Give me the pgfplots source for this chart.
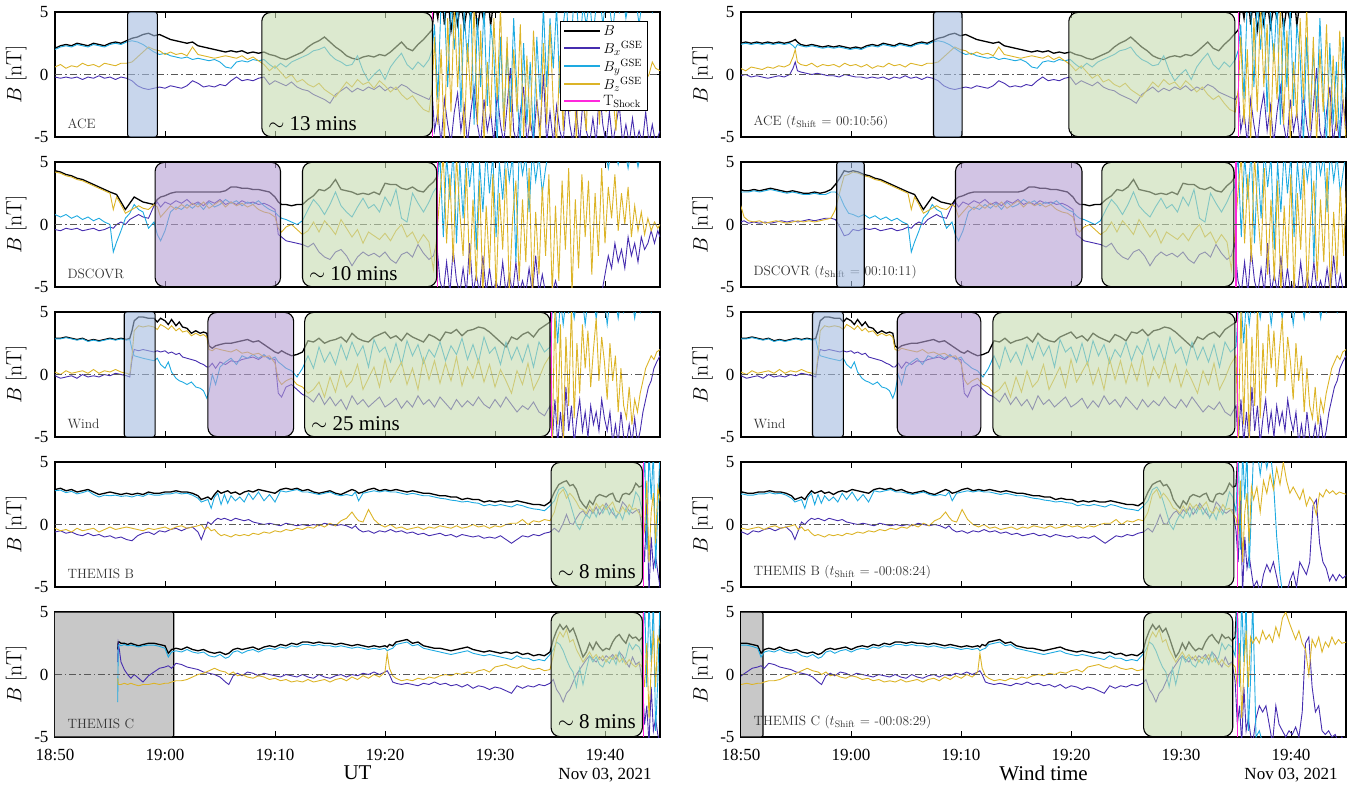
\documentclass[border=0pt]{standalone}
\usepackage{fontspec}
\usepackage{pgfplots}
\usepackage{pgfplotstable}
\pgfplotsset{compat=1.18}
\newfontfamily\tms{Liberation Serif}

\definecolor{bxcol}{RGB}{70,45,175}
\definecolor{bycol}{RGB}{30,170,225}
\definecolor{bzcol}{RGB}{220,180,40}
\definecolor{shockcol}{RGB}{255,40,220}
\definecolor{gfill}{RGB}{197,218,175}
\definecolor{bfill}{RGB}{163,187,223}
\definecolor{pfill}{RGB}{180,157,210}
\definecolor{kfill}{RGB}{200,200,200}

\pgfplotsset{
  bc/.style={black, line width=1.3pt},
  bxc/.style={bxcol, line width=0.9pt},
  byc/.style={bycol, line width=0.9pt},
  bzc/.style={bzcol, line width=0.9pt},
  shk/.style={shockcol, line width=1.2pt},
  panel/.style={
    width=605pt, height=125pt, scale only axis,
    xmin=0, xmax=55, ymin=-5, ymax=5,
    xtick={0,10,20,30,40,50}, xticklabels={,,,,,},
    ytick={-5,0,5}, yticklabels={-5,0,5},
    tick align=inside, major tick length=6pt,
    tick style={black, line width=0.8pt},
    axis line style={line width=1.2pt},
    ticklabel style={font=\tms\fontsize{17}{17}\selectfont},
    yticklabel style={xshift=-3pt},
    ylabel={$B\;[\mathrm{nT}]$},
    ylabel style={font=\fontsize{22}{22}\selectfont, at={(axis description cs:-0.041,0.5)}, anchor=south},
    clip=true},
  bottom/.style={xticklabels={18:50,19:00,19:10,19:20,19:30,19:40}, xticklabel style={yshift=-9pt}},
}

\newcommand{\fourlines}[2]{%
  \addplot[bc] table[x expr=\thisrow{t}#2, y=B] {#1};
  \addplot[bxc] table[x expr=\thisrow{t}#2, y=Bx] {#1};
  \addplot[byc] table[x expr=\thisrow{t}#2, y=By] {#1};
  \addplot[bzc] table[x expr=\thisrow{t}#2, y=Bz] {#1};
}
\newcommand{\zeroline}{\draw[dash pattern=on 7pt off 3pt on 1.5pt off 3pt, black!65, line width=1pt] (axis cs:0,0) -- (axis cs:55,0);}
\newcommand{\gbox}[2]{\draw[line width=1.1pt, rounded corners=9pt, fill=gfill, fill opacity=0.6] (axis cs:#1,-4.97) rectangle (axis cs:#2,4.97);}
\newcommand{\pbox}[2]{\draw[line width=1.1pt, rounded corners=9pt, fill=pfill, fill opacity=0.6] (axis cs:#1,-4.97) rectangle (axis cs:#2,4.97);}
\newcommand{\bbox}[2]{\draw[line width=1.1pt, rounded corners=3pt, fill=bfill, fill opacity=0.6] (axis cs:#1,-5.05) rectangle (axis cs:#2,5.05);}
\newcommand{\kbox}[2]{\draw[line width=1.1pt, rounded corners=2pt, fill=kfill] (axis cs:#1,-5) rectangle (axis cs:#2,5);}
\newcommand{\plabel}[1]{\node[anchor=south west, font=\fontsize{13.5}{14}\selectfont, black!80] at (axis description cs:0,0) [xshift=9pt, yshift=5pt] {#1};}
\newcommand{\mins}[2]{\node[anchor=south west, font=\tms\fontsize{21}{21}\selectfont] at (axis cs:#1,-5) [xshift=3pt, yshift=3pt] {$\sim$ #2 mins};}

% minutes after 18:50 UT, B and GSE components in nT
\pgfplotstableread{
t B Bx By Bz
-11 2.5 -0.1 2.4 0.5
-10.5 2.6 0.0 2.5 0.3
-10 2.5 -0.2 2.4 0.6
-9.5 2.6 -0.1 2.5 0.5
-9 2.5 -0.2 2.4 0.4
-8.5 2.6 -0.3 2.5 0.6
-8 2.5 -0.2 2.4 0.5
-7.5 2.6 -0.1 2.5 0.7
-7 2.5 -0.2 2.4 0.6
-6.5 2.6 0.0 2.5 0.8
-6.2 2.7 0.5 2.3 1.4
-6.0 2.8 1.0 2.1 2.0
-5.8 2.6 0.3 2.4 1.0
-5.5 2.4 0.2 2.3 0.8
-5 2.3 0.1 2.2 0.7
-4.5 2.4 0.0 2.3 0.9
-4 2.3 0.1 2.2 0.6
-3.5 2.2 0.0 2.1 0.8
-3 2.3 -0.1 2.2 0.7
-2.5 2.2 -0.1 2.1 0.8
-2 2.3 -0.2 2.2 0.6
-1.5 2.2 0.0 2.1 0.9
-1 2.1 -0.1 2.0 0.7
-0.5 2.2 -0.2 2.1 0.8
0 2.1 -0.2 2.0 0.6
0.5 2.3 -0.3 2.2 0.8
1 2.4 -0.2 2.3 0.5
1.5 2.3 -0.3 2.2 0.7
2 2.5 -0.2 2.4 0.6
2.5 2.4 -0.4 2.3 0.9
3 2.3 -0.2 2.2 0.7
3.5 2.5 -0.3 2.4 0.8
4 2.4 -0.1 2.3 0.6
4.5 2.3 -0.3 2.2 0.9
5 2.5 -0.2 2.4 0.8
5.5 2.6 -0.4 2.5 0.7
6 2.5 -0.2 2.4 0.9
6.5 2.7 -0.3 2.6 0.9
7 2.9 -0.5 2.7 1.0
7.5 3.0 -0.9 2.6 1.4
8 3.2 -1.1 2.4 1.8
8.5 3.3 -1.2 2.1 2.2
9 3.1 -1.1 1.8 2.0
9.5 3.2 -1.0 1.6 1.9
10 3.0 -1.1 1.7 1.6
10.5 2.8 -0.9 1.5 1.8
11 2.7 -1.0 1.4 1.6
11.5 2.6 -1.1 1.3 1.7
12 2.5 -0.9 1.4 1.5
12.5 2.6 -0.5 1.2 2.2
13 2.3 -0.7 1.3 1.6
13.5 2.2 -1.0 1.2 1.5
14 2.1 -0.9 1.1 1.4
14.5 2.0 -1.0 1.2 1.3
15 1.9 -0.8 1.0 1.4
15.5 1.8 -0.9 0.6 1.5
16 1.9 -0.5 0.5 1.4
16.5 1.8 -0.2 1.0 1.3
17 1.9 -0.5 1.1 1.5
17.5 1.7 -0.4 1.0 1.2
18 1.8 -0.5 1.2 1.4
18.5 1.7 -0.3 1.1 1.1
19 1.8 -0.2 1.2 0.8
19.5 1.6 -0.8 0.8 0.3
20 1.5 -0.5 0.5 0.7
20.5 1.3 -0.7 0.9 0.2
21 1.2 -0.9 0.6 -0.3
21.5 1.4 -0.6 1.0 0.0
22 1.6 -1.0 1.2 -0.6
22.5 1.8 -1.2 1.4 -0.4
23 2.2 -1.3 1.6 -0.8
23.5 2.5 -1.6 1.9 -1.0
24 2.7 -1.8 2.0 -0.7
24.5 3.0 -2.0 2.2 -1.2
25 2.6 -2.3 1.6 -1.5
25.5 2.2 -1.6 1.2 -1.8
26 1.9 -1.3 1.0 -1.2
26.5 1.5 -1.0 0.7 -0.6
27 1.3 -1.4 0.8 -1.0
27.5 1.2 -1.1 1.5 -0.4
28 1.4 -1.3 0.3 -0.8
28.5 1.5 -1.0 -0.5 -0.6
29 1.4 -1.2 0.0 -1.1
29.5 1.6 -0.9 0.4 -0.5
30 1.5 -1.3 -0.4 -0.9
30.5 1.8 -1.0 0.6 -1.4
31 2.2 -1.2 1.2 -1.0
31.5 2.6 -0.8 1.7 -1.6
32 2.1 -1.0 0.8 -2.0
32.5 1.9 -1.4 0.4 -1.7
33 2.4 -1.6 1.0 -2.3
33.5 2.8 -1.8 0.6 -2.8
34 3.3 -2.0 1.2 -3.0
34.3 3.6 -1.5 2.0 -1.0
34.5 6.0 -4.5 4.0 3.0
34.8 4.5 -3.0 -2.0 -4.0
35.1 7.0 -5.5 6.0 2.0
35.4 4.0 -2.0 5.5 -5.5
35.7 6.5 -4.0 -1.0 4.5
36.0 3.5 -5.5 6.0 -3.0
36.3 5.5 -3.0 2.0 5.5
36.6 4.0 -1.5 6.0 -1.0
36.9 6.0 -4.5 -3.0 4.0
37.2 3.8 -2.5 5.0 -5.5
37.5 5.5 -5.5 1.0 2.5
37.8 4.5 -3.0 6.0 -2.0
38.1 6.5 -1.0 -4.0 5.5
38.4 3.6 -4.0 4.5 -4.0
38.7 5.5 -5.5 -1.0 3.5
39.0 4.2 -2.0 5.5 -5.5
39.3 7.0 -4.5 -2.5 1.0
39.6 3.9 -3.0 4.0 -3.5
39.9 6.0 -5.5 1.5 4.5
40.2 7.5 -1.5 -5.5 -2.0
40.5 6.0 -4.0 3.0 5.5
40.8 8.0 -5.5 -4.0 -4.5
41.1 6.5 -2.5 2.0 3.0
41.4 7.0 0.5 -3.0 -5.5
41.7 6.0 -4.5 4.5 2.0
42.0 8.0 -5.5 -1.5 -3.0
42.3 6.5 -3.0 -5.5 4.0
42.6 7.0 -1.0 2.5 -5.0
42.9 6.0 -5.5 -4.0 1.5
43.2 7.5 -3.5 1.0 -4.5
43.5 6.0 -5.5 -5.5 3.5
43.8 7.0 -2.0 3.0 -2.0
44.1 6.5 -4.5 -2.0 -5.5
44.4 8.0 0.0 5.5 2.5
44.7 6.0 -5.5 -1.0 -4.0
45.0 7.0 -3.0 4.5 4.0
45.3 6.5 -5.5 0.5 -2.5
45.6 7.5 -2.5 5.5 -5.5
45.9 6.0 -4.5 -1.5 1.5
46.2 7.0 -5.5 4.0 -4.5
46.5 6.5 -1.5 6.0 3.0
46.8 7.5 -4.0 0.0 -3.0
47.1 6.0 -5.5 5.0 2.0
47.4 7.0 -3.0 6.0 -5.5
47.7 6.5 -5.5 2.0 4.0
48.0 7.5 -2.0 5.5 -1.5
48.3 6.0 -4.5 4.0 -4.5
48.6 7.0 -5.5 6.0 3.5
48.9 6.5 -3.5 3.0 -2.0
49.2 7.5 -5.5 5.5 1.0
49.5 6.0 -1.0 6.5 -4.0
49.8 7.0 -4.0 4.0 2.5
50.1 6.5 -5.5 6.0 -3.0
50.4 7.5 -3.0 5.5 4.0
50.7 6.0 -5.5 3.5 -1.5
51.0 7.0 -4.0 6.0 -4.5
51.3 6.5 -2.5 5.0 2.0
51.6 7.5 -5.5 6.5 -2.5
51.9 6.0 -4.0 4.5 3.0
52.2 7.0 -5.5 6.0 -1.0
52.5 6.5 -3.5 5.5 1.5
52.8 7.5 -5.5 6.0 -2.0
53.1 6.0 -4.5 4.0 0.5
53.4 7.0 -5.5 6.0 1.5
53.7 6.5 -3.0 5.5 -0.5
54.0 7.0 -5.5 6.0 0.0
54.3 6.5 -4.0 5.0 1.0
54.6 7.0 -5.5 6.0 0.5
55.0 6.5 -4.5 5.5 0.3
}\ace

\pgfplotstableread{
t B Bx By Bz
-10.2 2.8 0.2 2.6 1.5
-9.9 2.7 0.3 2.6 0.6
-9.5 2.7 0.1 2.6 0.3
-9.0 2.8 0.2 2.7 0.2
-8.5 2.7 0.1 2.6 0.3
-8.0 2.8 0.2 2.7 0.1
-7.5 2.9 0.1 2.8 0.2
-7.0 2.8 0.2 2.7 0.3
-6.5 2.7 0.3 2.6 0.2
-6.0 2.6 0.2 2.5 0.1
-5.5 2.7 0.3 2.6 0.2
-5.0 2.6 0.2 2.5 0.3
-4.5 2.5 0.3 2.4 0.2
-4.0 2.5 0.4 2.4 0.3
-3.5 2.6 0.3 2.5 0.2
-3.0 2.5 0.4 2.4 0.3
-2.5 2.6 0.5 2.4 0.4
-2.0 2.8 0.5 2.6 0.5
-1.6 3.2 0.4 2.6 1.2
-1.2 3.7 -0.2 2.3 2.6
-0.8 4.3 -0.9 1.5 3.9
-0.4 4.2 -0.8 0.9 4.0
0 4.3 -0.4 0.8 4.2
0.5 4.2 -0.5 0.6 4.1
1.0 4.0 -0.3 0.8 3.9
1.5 3.9 -0.4 0.5 3.8
2.0 3.7 -0.3 0.7 3.6
2.5 3.6 -0.5 0.4 3.5
3.0 3.4 -0.4 0.6 3.3
3.5 3.2 -0.3 0.3 3.1
4.0 3.0 -0.5 0.5 2.9
4.5 2.8 -0.4 0.2 2.7
5.0 2.6 -0.2 0.0 2.5
5.3 2.5 -0.3 -2.2 1.2
5.6 2.4 0.0 -1.4 2.2
6.0 1.8 0.2 -0.5 1.6
6.4 1.2 0.0 0.5 0.9
6.8 1.7 0.4 0.9 1.1
7.2 2.2 0.6 1.6 1.3
7.6 2.0 0.8 1.2 1.5
8.0 1.8 0.6 1.0 1.3
8.5 1.7 0.5 -0.3 1.2
9.0 1.6 1.5 0.2 1.6
9.3 2.0 1.8 -0.8 1.4
9.6 2.2 1.4 -1.3 0.6
10.0 2.3 1.8 -0.5 1.0
10.5 2.5 1.6 1.0 1.5
11.0 2.6 1.9 1.4 1.2
11.5 2.6 1.7 1.2 1.6
12.0 2.6 2.0 1.6 1.3
12.5 2.6 1.6 1.3 1.7
13.0 2.6 1.8 1.7 1.4
13.5 2.6 1.5 1.2 1.8
14.0 2.6 1.9 1.8 1.3
14.5 2.6 1.7 1.4 1.6
15.0 2.6 2.0 1.6 1.9
15.5 2.7 1.6 2.0 1.4
16.0 3.0 1.8 1.7 1.8
16.5 3.0 1.6 1.9 1.5
17.0 2.9 1.9 1.5 1.7
17.5 2.9 1.7 1.8 1.4
18.0 2.8 1.8 1.6 1.6
18.5 2.8 1.6 1.9 1.2
19.0 2.7 1.7 1.5 1.0
19.5 2.6 1.5 1.2 0.9
20.0 2.2 1.2 1.0 0.6
20.3 1.8 -0.8 0.7 -0.3
20.6 1.6 -1.0 0.5 -0.6
21.0 1.6 -1.3 0.4 -0.2
21.5 1.5 -1.4 0.2 0.0
22.0 1.6 -1.5 0.0 -0.4
22.5 1.6 -1.6 0.3 -0.8
23.0 2.0 -1.8 1.2 -0.5
23.5 2.3 -1.5 2.0 0.2
24.0 2.8 -2.2 1.5 -0.6
24.5 2.7 -2.6 0.8 0.3
25.0 3.0 -2.8 1.6 -0.2
25.5 3.6 -2.2 2.6 -0.8
26.0 2.8 -2.0 1.5 0.4
26.5 2.7 -2.5 1.0 -0.3
27.0 2.6 -3.3 0.6 -1.0
27.5 2.4 -2.6 1.4 -0.4
28.0 2.5 -2.2 2.1 -1.5
28.5 2.4 -2.5 1.3 -0.6
29.0 2.6 -2.3 1.6 -0.9
29.5 2.4 -2.6 1.0 -1.2
30.0 3.3 -2.2 2.2 -0.7
30.5 3.2 -2.8 1.5 -1.3
31.0 3.2 -3.1 2.8 -0.5
31.5 2.9 -2.4 0.5 0.0
32.0 2.8 -2.2 0.2 -1.0
32.5 3.0 -2.6 2.5 -0.6
33.0 2.7 -1.6 1.7 -1.5
33.5 2.6 -2.3 1.0 -0.8
34.0 3.1 -2.8 1.8 -1.4
34.4 3.4 -2.5 2.6 -3.6
34.7 3.8 -1.5 3.0 -1.0
35.0 6.5 -4.5 5.5 2.5
35.3 7.0 -5.5 -1.0 5.5
35.6 6.0 -3.0 5.5 -1.5
35.9 7.5 -5.5 2.0 4.0
36.2 6.5 -2.0 6.0 -3.0
36.5 7.0 -4.5 -1.5 5.5
36.8 6.0 -5.5 5.0 1.0
37.1 7.5 -3.5 0.5 -2.5
37.4 6.5 -5.5 6.0 4.5
37.7 7.0 -1.5 3.0 -4.0
38.0 6.0 -5.5 5.5 2.0
38.3 7.5 -4.0 -2.0 -4.5
38.6 6.5 -5.5 5.0 3.5
38.9 7.0 -2.5 1.0 -5.5
39.2 6.0 -5.5 6.0 1.5
39.5 7.5 -3.5 2.5 -3.5
39.8 6.5 -5.5 5.5 4.0
40.1 7.0 -4.5 -1.0 -5.5
40.4 6.0 -5.5 5.0 2.5
40.7 7.5 -3.0 2.0 -2.0
41.0 6.5 -5.5 6.0 4.5
41.3 7.0 -4.0 3.5 -5.5
41.6 6.0 -5.5 5.5 0.5
41.9 7.5 -3.0 -3.0 3.5
42.2 6.5 -5.5 6.0 -4.5
42.5 7.0 -4.5 4.0 2.0
42.8 6.0 -5.5 5.5 -3.0
43.1 7.5 -3.5 1.0 4.5
43.4 6.5 -5.5 6.0 -5.5
43.7 7.0 -2.5 3.5 1.0
44.0 6.0 -5.5 5.5 -4.0
44.3 7.5 -4.0 2.5 3.0
44.6 6.5 -5.5 4.5 -2.5
44.9 7.0 -5.5 6.0 4.0
45.2 6.0 -5.5 6.0 -5.5
45.5 7.5 -4.5 6.0 1.5
45.8 6.5 -5.5 6.0 -4.5
46.1 7.0 -5.5 6.0 3.5
46.4 6.0 -5.5 6.0 -2.0
46.7 7.5 -5.5 5.5 4.5
47.0 6.5 -5.5 6.0 -5.5
47.3 7.0 -5.5 6.0 2.0
47.6 6.0 -5.5 6.0 -3.5
47.9 7.5 -5.5 6.0 4.0
48.2 6.5 -5.5 6.0 -1.0
48.5 7.0 -5.5 5.5 3.5
48.8 6.0 -5.5 6.0 -4.0
49.1 7.5 -5.5 6.0 2.5
49.4 6.5 -5.5 6.0 -2.5
49.7 7.0 -5.5 6.0 4.5
50.0 6.0 -4.0 6.0 -1.5
50.3 7.5 -2.5 4.5 3.0
50.6 6.5 -3.5 6.0 0.5
50.9 7.0 -1.5 6.0 4.0
51.2 6.0 -3.0 4.8 -0.5
51.5 7.5 -2.0 6.0 2.5
51.8 6.5 -3.5 6.0 0.0
52.1 7.0 -1.0 4.5 3.0
52.4 6.0 -2.5 6.0 -1.0
52.7 7.5 -1.5 6.0 1.5
53.0 6.5 -3.0 4.6 -0.5
53.3 7.0 -1.0 6.0 1.0
53.6 6.0 -2.0 6.0 -0.8
53.9 7.5 -1.5 6.0 0.5
54.2 6.5 -0.5 6.0 -0.5
54.5 7.0 -1.5 6.0 0.2
54.8 6.0 -0.5 6.0 -0.3
55.0 6.5 -1.0 6.0 0.0
}\dscovr

\pgfplotstableread{
t B Bx By Bz
0.0 2.9 -0.1 2.85 0.2
0.5 2.9 -0.3 2.85 0.0
1.0 3.0 -0.2 2.95 0.3
1.5 2.9 -0.1 2.85 0.1
2.0 2.8 -0.3 2.75 0.2
2.5 2.9 0.0 2.85 0.3
3.0 2.7 -0.2 2.65 0.1
3.5 2.8 -0.1 2.75 0.4
4.0 2.7 -0.2 2.65 0.1
4.5 2.8 0.0 2.75 0.3
5.0 2.9 -0.1 2.85 0.2
5.5 2.8 0.1 2.75 0.4
6.0 2.9 0.0 2.85 0.2
6.5 2.8 -0.1 2.75 0.1
6.8 2.9 -0.2 2.8 0.0
7.0 3.5 1.2 2.0 1.5
7.2 4.3 2.0 1.5 3.5
7.6 4.6 1.9 1.4 3.9
8.0 4.6 2.0 1.3 3.8
8.5 4.5 1.9 1.2 3.9
9.0 4.5 1.8 1.1 3.8
9.3 4.2 1.9 1.3 3.6
9.6 4.5 1.8 0.8 4.0
10.0 4.3 1.9 0.5 3.8
10.3 4.0 1.7 1.0 3.6
10.6 4.4 1.8 0.2 3.9
11.0 3.9 1.6 -0.3 3.5
11.3 4.2 1.7 -0.5 3.7
11.6 3.8 1.4 -0.6 3.4
12.0 3.7 1.3 -0.8 3.5
12.4 3.3 1.2 -0.6 3.1
12.8 3.5 1.1 -1.0 3.3
13.2 3.3 0.9 -1.1 3.1
13.5 3.4 0.8 -1.3 3.2
13.8 3.3 0.6 -1.9 3.0
14.0 2.3 0.6 -1.4 2.0
14.3 2.1 0.9 0.0 1.9
14.6 2.3 0.5 -0.8 2.1
15.0 2.4 1.0 0.6 2.0
15.5 2.5 0.8 1.0 1.9
16.0 2.5 1.1 1.3 1.8
16.5 2.6 1.0 0.8 2.0
17.0 2.7 1.2 1.5 1.7
17.5 2.8 1.3 1.3 1.8
18.0 2.6 1.4 1.6 1.6
18.5 2.7 1.2 1.3 1.7
19.0 2.4 1.5 1.6 1.4
19.5 2.1 1.3 1.2 1.5
20.0 1.8 1.2 1.4 0.9
20.3 1.7 -1.5 1.0 -0.4
20.6 1.9 -1.8 0.8 -0.8
21.0 1.7 -1.0 0.5 -0.5
21.5 1.5 -0.8 0.3 -0.3
22.0 1.6 -1.2 -0.2 -0.8
22.5 1.8 -1.6 0.5 -1.0
23.0 2.7 -1.8 1.5 -1.5
23.5 2.6 -2.2 0.5 -1.2
24.0 2.9 -1.5 2.2 -0.6
24.5 2.5 -2.4 1.0 -1.8
25.0 2.7 -1.8 1.8 -0.2
25.5 2.8 -2.5 0.8 -1.4
26.0 3.0 -2.0 2.4 0.3
26.5 2.6 -2.8 1.2 -1.0
27.0 3.3 -1.7 2.6 -0.5
27.5 2.9 -2.4 1.5 0.8
28.0 2.7 -2.0 2.3 -1.2
28.5 2.6 -2.6 0.6 -0.3
29.0 3.0 -2.2 2.8 0.6
29.5 3.2 -1.8 1.8 -1.0
30.0 3.4 -2.6 2.2 1.2
30.5 2.9 -2.3 1.0 -0.6
31.0 3.1 -1.9 2.5 0.2
31.5 2.7 -2.7 0.8 1.0
32.0 3.3 -2.1 2.7 -0.8
32.5 3.0 -2.6 1.5 0.5
33.0 2.8 -1.7 2.4 -1.2
33.5 2.6 -2.4 0.9 1.3
34.0 3.2 -2.0 2.0 -0.4
34.5 3.0 -2.6 1.4 1.1
35.0 2.7 -1.8 2.6 -0.7
35.5 3.4 -2.3 1.1 0.9
36.0 3.3 -2.8 2.3 -0.5
36.5 3.6 -2.0 1.6 1.4
37.0 3.1 -2.6 2.9 -0.9
37.5 3.5 -2.1 1.2 0.6
38.0 3.6 -2.5 2.4 -0.3
38.5 3.8 -1.8 1.0 1.2
39.0 3.7 -2.4 3.0 -0.6
39.5 3.4 -2.7 1.7 0.8
40.0 3.0 -2.0 2.2 -1.0
40.5 2.6 -2.6 0.8 0.4
41.0 2.2 -1.8 2.6 -0.5
41.5 3.0 -2.4 1.2 -1.5
42.0 2.8 -3.0 2.2 0.3
42.5 3.2 -2.5 1.0 -0.8
43.0 3.4 -2.8 2.4 0.9
43.5 3.0 -2.2 0.6 -1.2
44.0 3.6 -3.0 2.6 -0.3
44.5 3.9 -3.3 1.8 0.8
45.0 4.2 -2.5 2.2 1.5
45.2 6.0 -5.5 5.0 -5.5
45.45 7.0 -2.0 6.0 5.5
45.7 6.5 -5.5 2.5 -4.0
45.95 7.5 -3.0 6.0 4.0
46.2 6.0 -5.5 4.0 -5.5
46.45 7.0 -1.0 6.0 3.0
46.7 6.5 -4.5 5.0 -2.5
46.95 7.5 -2.5 6.0 5.5
47.2 6.0 -5.5 4.5 -3.5
47.45 7.0 -3.5 6.0 2.5
47.7 6.5 -2.0 5.5 -1.5
47.95 7.5 -4.5 6.0 4.0
48.2 6.0 -3.0 4.0 0.5
48.45 7.0 -5.0 6.0 3.5
48.7 6.5 -2.5 5.5 -1.0
48.95 7.5 -4.0 6.0 2.0
49.2 6.0 -3.0 4.5 4.5
49.45 7.0 -4.5 6.0 -0.5
49.7 6.5 -2.0 5.5 3.0
49.95 7.5 -3.5 6.0 1.0
50.2 6.0 -4.5 4.0 -2.0
50.45 7.0 -3.0 6.0 2.5
50.7 6.5 -5.5 5.5 -0.5
50.95 7.5 -4.0 6.0 1.5
51.2 6.0 -5.5 4.5 -3.0
51.45 7.0 -3.0 6.0 0.5
51.7 6.5 -5.0 5.0 -2.5
51.95 7.5 -5.5 6.0 -3.5
52.2 6.0 -4.0 5.5 -1.0
52.45 7.0 -5.5 6.0 -4.0
52.7 6.5 -3.5 4.5 -2.0
52.95 7.5 -5.5 6.0 -3.0
53.2 6.0 -4.5 5.0 -1.5
53.45 7.0 -3.0 6.0 -0.5
53.7 6.5 -2.0 5.5 0.5
53.95 7.5 -1.0 6.0 1.0
54.2 6.0 -0.5 5.0 1.5
54.45 7.0 0.5 6.0 1.2
54.7 6.5 1.0 5.5 1.8
55.0 7.0 1.5 6.0 2.0
}\wind

\pgfplotstableread{
t B Bx By Bz
0.0 2.8 -0.6 2.7 -0.3
0.5 2.9 -0.5 2.75 -0.5
1.0 2.7 -0.7 2.55 -0.4
1.5 2.8 -0.6 2.65 -0.6
2.0 2.6 -0.8 2.45 -0.3
2.5 2.7 -0.9 2.55 -0.5
3.0 2.8 -0.7 2.7 -0.4
3.5 2.6 -0.9 2.4 -0.3
4.0 2.4 -0.8 2.2 -0.6
4.5 2.5 -1.0 2.35 -0.4
5.0 2.6 -0.9 2.3 -0.2
5.5 2.5 -1.1 2.35 -0.4
6.0 2.4 -1.0 2.25 -0.3
6.5 2.5 -1.2 2.3 -0.2
7.0 2.4 -1.3 2.2 -0.3
7.5 2.5 -0.9 2.35 -0.4
8.0 2.4 -0.7 2.25 -0.5
8.5 2.6 -0.6 2.45 -0.3
9.0 2.5 -0.8 2.35 -0.4
9.5 2.5 -0.5 2.35 -0.3
10.0 2.6 -0.6 2.45 -0.2
10.5 2.6 -0.4 2.45 -0.4
11.0 2.7 -0.3 2.55 -0.2
11.5 2.6 -0.5 2.45 -0.1
12.0 2.6 -0.3 2.5 -0.3
12.5 2.5 -0.2 2.35 -0.2
13.0 2.3 -0.6 2.1 -0.1
13.3 2.0 -1.2 1.8 0.0
13.6 2.1 -0.5 1.9 -0.4
13.9 2.2 0.2 2.0 -0.2
14.2 2.0 0.0 1.3 -0.5
14.5 2.4 0.3 2.2 -0.4
14.8 2.7 0.5 2.5 -0.7
15.1 2.5 0.4 1.6 -0.9
15.4 2.6 0.5 2.4 -0.8
15.7 2.7 0.4 1.7 -0.9
16.0 2.5 0.3 2.3 -1.0
16.4 2.6 0.5 1.9 -0.8
16.8 2.4 0.4 2.2 -0.9
17.2 2.6 0.3 1.8 -0.8
17.6 2.7 0.4 2.5 -0.9
18.0 2.6 0.2 2.0 -0.7
18.5 2.8 0.1 2.6 -0.8
19.0 2.7 0.0 1.9 -0.6
19.5 2.6 0.1 2.4 -0.7
20.0 2.5 0.0 1.8 -0.5
20.5 2.8 -0.1 2.7 -0.6
21.0 2.9 0.1 2.6 -0.4
21.5 2.8 0.0 2.7 -0.5
22.0 2.9 -0.1 2.8 -0.3
22.5 2.7 0.0 2.6 -0.4
23.0 2.8 -0.1 2.6 -0.2
23.5 2.6 0.0 2.5 -0.3
24.0 2.5 -0.1 2.4 0.0
24.5 2.6 0.1 2.5 -0.2
25.0 2.7 0.0 2.6 0.1
25.5 2.5 -0.1 2.4 -0.1
26.0 2.4 0.0 2.3 0.3
26.5 2.6 -0.1 2.4 0.5
27.0 2.8 -0.3 2.3 1.0
27.3 2.7 -0.1 2.6 0.6
27.6 2.5 -0.4 1.9 0.3
28.0 2.6 -0.6 2.5 0.2
28.5 2.8 -0.5 2.6 1.2
29.0 2.9 -0.7 2.7 0.4
29.5 2.7 -0.5 2.6 0.0
30.0 2.8 -0.6 2.7 -0.2
30.5 2.7 -0.4 2.6 0.0
31.0 2.8 -0.6 2.6 -0.3
31.5 2.7 -0.5 2.5 -0.2
32.0 2.6 -0.7 2.4 -0.4
32.5 2.7 -0.6 2.5 -0.3
33.0 2.6 -0.8 2.4 -0.2
33.5 2.5 -0.7 2.3 -0.4
34.0 2.5 -0.9 2.3 -0.2
34.5 2.4 -0.8 2.2 -0.3
35.0 2.3 -0.7 2.1 -0.1
35.5 2.3 -0.9 2.05 -0.2
36.0 2.2 -0.8 1.95 -0.3
36.5 2.2 -1.0 1.9 -0.1
37.0 2.0 -0.8 1.8 -0.3
37.5 2.1 -0.9 1.85 -0.2
38.0 2.0 -1.0 1.75 0.0
38.5 2.0 -0.9 1.7 -0.2
39.0 1.8 -1.1 1.5 -0.1
39.5 1.9 -1.0 1.6 -0.3
40.0 1.8 -1.1 1.5 -0.1
40.5 1.9 -0.9 1.6 -0.2
41.0 1.8 -1.2 1.5 0.0
41.5 1.8 -1.5 1.4 0.1
42.0 1.9 -1.2 1.6 0.1
42.5 1.8 -0.9 1.5 0.4
43.0 1.7 -1.0 1.35 0.0
43.5 1.6 -0.8 1.25 0.3
44.0 1.6 -0.9 1.2 0.2
44.5 1.5 -0.7 1.1 0.4
45.0 1.8 -0.6 1.5 0.3
45.4 2.6 -0.3 1.9 1.0
45.8 3.2 -0.6 2.8 2.4
46.2 3.4 0.1 3.0 2.8
46.5 3.5 0.8 2.6 2.1
46.8 3.1 0.1 1.8 2.5
47.1 3.2 0.0 0.9 2.2
47.4 2.8 0.5 0.0 1.8
47.7 2.0 0.9 -0.4 1.3
48.0 1.6 1.1 0.3 1.2
48.3 1.3 0.7 0.8 0.9
48.6 1.9 1.2 0.5 1.5
48.9 1.6 0.9 1.2 1.0
49.2 2.2 1.4 0.6 1.7
49.5 2.4 0.8 1.4 1.3
49.8 2.3 1.2 0.9 1.6
50.1 2.2 1.7 1.5 1.2
50.4 2.4 1.3 0.8 1.5
50.7 2.5 0.9 1.3 1.8
51.0 1.9 0.6 0.5 1.1
51.3 1.8 1.0 1.0 0.9
51.6 2.4 1.8 0.4 1.4
51.9 2.5 1.5 1.3 1.0
52.2 2.4 1.1 0.8 1.6
52.5 2.7 0.9 1.5 1.2
52.8 3.3 1.1 2.6 1.3
53.1 3.0 1.2 2.2 0.9
53.4 3.1 -0.5 1.0 0.5
53.6 6.0 -3.0 6.0 -0.5
53.8 5.5 2.0 -2.0 3.5
54.0 6.5 -5.5 6.0 -3.0
54.2 6.0 -1.0 2.0 1.0
54.4 7.0 -3.5 6.0 2.5
54.6 6.5 -2.5 -3.5 -1.5
54.8 6.0 -3.8 1.2 3.0
55.0 6.5 -5.0 6.0 2.0
55.3 6.0 -4.5 6.0 3.0
55.6 6.5 -5.5 4.0 1.0
55.9 6.0 -4.0 6.0 3.5
56.2 6.5 -3.2 4.5 2.5
56.5 6.0 -3.8 6.0 4.0
56.8 6.5 -3.0 3.5 2.8
57.1 6.0 -4.2 -1.0 4.5
57.4 6.5 -5.5 -4.0 3.2
57.7 6.0 -5.5 -6.0 5.0
58.0 6.5 -5.5 -6.0 3.5
58.3 6.0 -4.5 -6.0 2.5
58.6 6.5 -3.8 -6.0 3.0
58.9 6.0 -5.0 -6.0 2.5
59.2 6.5 -3.0 -6.0 2.0
59.5 6.0 -3.5 -6.0 2.8
59.8 6.5 -4.0 -6.0 1.5
60.1 6.0 -3.0 -6.0 2.2
60.4 6.5 1.5 -6.0 1.8
60.7 6.0 2.0 -6.0 0.8
61.0 6.5 -1.5 -6.0 2.5
61.3 6.0 -3.0 -6.0 2.2
61.6 6.5 -3.5 -6.0 2.8
61.9 6.0 -4.5 -6.0 2.5
62.2 6.5 -4.0 -6.0 2.7
62.5 6.0 -4.5 -6.0 2.4
62.8 6.5 -4.0 -6.0 2.6
63.1 6.0 -4.3 -6.0 2.5
63.5 6.5 -4.0 -6.0 2.4
}\thb

\pgfplotstableread{
t B Bx By Bz
5.70 2.0 1.0 -2.2 -0.3
5.75 2.6 2.5 2.3 -0.8
5.85 2.6 2.0 2.4 -0.8
6.0 2.5 1.0 2.3 -0.8
6.3 2.5 0.4 2.4 -0.7
6.6 2.4 0.0 2.3 -0.8
6.9 2.5 -0.3 2.35 -0.7
7.2 2.4 0.0 2.3 -0.8
7.6 2.3 -0.3 2.2 -0.9
8.0 2.4 -0.6 2.3 -0.8
8.5 2.5 -0.1 2.35 -0.8
9.0 2.5 0.2 2.35 -0.7
9.5 2.4 0.5 2.25 -0.8
10.0 2.3 0.6 2.1 -0.7
10.3 1.7 0.7 1.4 -0.7
10.6 2.0 0.5 1.8 -0.6
11.0 2.1 0.9 1.9 -0.5
11.5 2.0 0.8 1.8 -0.5
12.0 2.2 0.6 2.0 -0.4
12.5 2.0 0.5 1.8 -0.2
13.0 1.9 0.4 1.7 0.0
13.5 2.0 0.2 1.8 0.1
14.0 1.8 0.1 1.5 0.3
14.5 1.7 0.0 1.4 0.5
15.0 1.8 -0.2 1.6 0.3
15.5 1.6 -0.6 1.3 0.2
15.8 1.7 -0.8 1.4 0.0
16.2 2.0 -0.1 1.8 0.2
16.6 2.1 0.1 1.9 -0.1
17.0 2.0 -0.1 1.7 0.0
17.5 2.1 0.2 1.9 -0.2
18.0 2.2 0.1 2.0 -0.3
18.5 2.0 -0.1 1.8 -0.1
19.0 2.2 0.1 2.0 -0.2
19.5 2.3 0.0 2.1 -0.4
20.0 2.2 -0.1 2.0 -0.3
20.5 2.4 -0.2 2.2 -0.5
21.0 2.3 0.0 2.1 -0.4
21.5 2.5 -0.1 2.3 -0.6
22.0 2.4 -0.2 2.2 -0.5
22.5 2.6 0.0 2.4 -0.6
23.0 2.6 -0.2 2.4 -0.4
23.5 2.5 -0.3 2.3 -0.6
24.0 2.6 0.0 2.4 -0.5
24.5 2.5 -0.2 2.3 -0.4
25.0 2.5 -0.3 2.3 -0.6
25.5 2.4 -0.1 2.2 -0.4
26.0 2.5 0.0 2.3 -0.3
26.5 2.4 -0.2 2.2 -0.5
27.0 2.3 0.0 2.1 -0.2
27.5 2.4 -0.1 2.2 -0.4
28.0 2.3 0.1 2.1 -0.1
28.5 2.2 0.0 2.0 -0.3
29.0 2.3 0.2 2.1 0.0
29.5 2.2 0.0 2.0 -0.2
30.0 2.3 0.2 2.1 0.2
30.2 2.2 0.3 1.9 1.7
30.4 2.4 0.0 2.0 0.5
30.7 2.3 -0.6 2.1 -0.1
31.0 2.6 -0.7 2.4 -0.3
31.5 2.7 -0.8 2.5 -0.5
32.0 2.8 -0.7 2.6 -0.4
32.5 2.5 -0.8 2.3 -0.5
33.0 2.6 -0.9 2.4 -0.3
33.5 2.3 -0.7 2.1 -0.4
34.0 2.2 -0.8 2.0 -0.2
34.5 2.1 -0.6 1.9 -0.3
35.0 2.1 -0.8 1.8 -0.1
35.5 2.0 -0.7 1.7 0.0
36.0 1.9 -0.9 1.6 -0.1
36.5 2.0 -0.8 1.7 0.1
37.0 2.1 -1.0 1.8 0.0
37.5 2.2 -0.8 1.9 0.2
38.0 2.0 -1.1 1.7 0.1
38.5 1.9 -0.9 1.6 0.3
39.0 1.8 -1.0 1.5 0.4
39.5 1.9 -1.2 1.6 0.2
40.0 1.8 -1.0 1.5 0.6
40.5 1.7 -1.1 1.4 0.7
41.0 1.8 -1.3 1.3 0.8
41.5 1.7 -1.5 1.2 0.6
42.0 1.8 -0.9 1.5 0.5
42.5 1.6 -1.1 1.3 0.7
43.0 1.7 -0.9 1.3 0.5
43.5 1.5 -1.0 1.1 0.4
44.0 1.6 -0.8 1.2 0.5
44.5 1.5 -0.9 1.1 0.3
45.0 1.8 -0.7 1.6 0.4
45.3 2.8 -0.4 2.0 1.5
45.6 3.5 -1.2 2.6 2.8
45.9 4.0 -1.6 2.4 3.4
46.2 3.6 -2.2 1.9 3.0
46.5 3.9 -1.5 1.2 3.6
46.8 3.4 -1.2 0.6 2.6
47.1 3.7 -0.6 0.2 2.8
47.4 3.0 0.0 -1.0 2.0
47.7 2.2 0.4 0.5 1.5
48.0 1.4 0.8 -0.8 1.0
48.3 1.8 1.2 0.4 1.4
48.6 2.5 1.5 1.5 1.8
48.9 2.0 1.2 1.0 1.3
49.2 2.6 1.0 1.4 1.6
49.5 2.2 1.4 0.8 1.2
49.8 1.9 1.1 0.6 1.5
50.1 2.1 1.5 1.2 1.0
50.4 2.0 1.3 0.9 1.4
50.7 2.6 1.6 1.4 1.2
51.0 3.0 1.2 0.8 1.6
51.3 3.2 1.8 1.8 1.0
51.6 2.8 1.5 1.0 1.3
51.9 2.5 1.0 1.4 0.8
52.2 3.2 0.6 2.5 1.2
52.5 2.9 1.4 2.0 0.8
52.8 3.0 0.8 2.4 0.6
53.1 2.7 1.0 2.2 0.9
53.4 3.0 -0.5 1.5 0.6
53.6 6.5 -4.0 6.0 -1.0
53.8 6.0 -2.5 -1.0 2.5
54.0 7.0 -5.5 6.0 -3.5
54.2 6.5 -1.0 1.0 0.5
54.4 7.0 -4.5 6.0 3.5
54.6 6.0 -3.5 -4.5 -1.0
54.8 6.5 -4.8 -0.5 3.0
55.0 6.0 -5.5 6.0 2.5
55.3 6.5 -3.5 -5.0 3.0
55.6 6.0 -2.5 -4.5 2.5
55.9 6.5 -3.0 -5.5 3.5
56.2 6.0 -2.5 -6.0 2.8
56.5 6.5 -4.0 -6.0 3.2
56.8 6.0 -5.5 -6.0 2.6
57.1 6.5 -2.5 -6.0 3.8
57.4 6.0 -4.0 -6.0 3.0
57.7 6.5 -4.5 -6.0 4.5
58.0 6.0 -5.0 -6.0 5.0
58.3 6.5 -4.5 -6.0 4.2
58.6 6.0 -4.8 -6.0 3.5
58.9 6.5 -4.2 -6.0 2.8
59.2 6.0 -5.0 -6.0 3.5
59.5 6.5 -3.0 -6.0 2.5
59.8 6.0 2.5 -6.0 2.0
60.1 6.5 3.0 -6.0 0.0
60.4 6.0 -1.0 -6.0 2.8
60.7 6.5 -3.0 -6.0 2.2
61.0 6.0 -2.5 -6.0 3.0
61.3 6.5 -4.5 -6.0 1.8
61.6 6.0 -4.8 -6.0 2.6
61.9 6.5 -4.5 -6.0 2.2
62.2 6.0 -5.0 -6.0 3.0
62.5 6.5 -4.8 -6.0 2.4
62.8 6.0 -5.5 -6.0 2.8
63.1 6.5 -5.0 -6.0 2.5
63.5 6.0 -5.5 -6.0 2.6
}\thc

\begin{document}
\begin{tikzpicture}
\useasboundingbox (0pt,0pt) rectangle (1366pt,-788pt);

% ---------------- left column (UT) ----------------
\begin{axis}[panel, at={(55pt,-12pt)}, anchor=north west,
  legend style={at={(1,1)}, anchor=north east, xshift=-12pt, yshift=-9pt,
    font=\fontsize{15}{16}\selectfont, draw=black, line width=1pt,
    inner xsep=3pt, inner ysep=2pt, row sep=0pt},
  legend cell align=left,
  legend image code/.code={\draw[#1, line width=2.2pt] (0pt,0pt) -- (36pt,0pt);}]
\fourlines{\ace}{+0}
\addplot[shk] coordinates {(34.3,-5) (34.3,5)};
\zeroline
\bbox{6.6}{9.3}
\gbox{18.8}{34.3}
\plabel{ACE}
\mins{18.8}{13}
\legend{$B$, $B_x{}^{\mathrm{GSE}}$, $B_y{}^{\mathrm{GSE}}$, $B_z{}^{\mathrm{GSE}}$, $\mathrm{T}_{\mathrm{Shock}}$}
\end{axis}

\begin{axis}[panel, at={(55pt,-162pt)}, anchor=north west]
\fourlines{\dscovr}{+0}
\addplot[shk] coordinates {(34.8,-5) (34.8,5)};
\zeroline
\pbox{9.1}{20.5}
\gbox{22.5}{34.7}
\plabel{DSCOVR}
\mins{22.5}{10}
\end{axis}

\begin{axis}[panel, at={(55pt,-312pt)}, anchor=north west]
\fourlines{\wind}{+0}
\addplot[shk] coordinates {(45.1,-5) (45.1,5)};
\zeroline
\bbox{6.3}{9.1}
\pbox{13.9}{21.7}
\gbox{22.7}{45.0}
\plabel{Wind}
\mins{22.7}{25}
\end{axis}

\begin{axis}[panel, at={(55pt,-462pt)}, anchor=north west]
\fourlines{\thb}{+0}
\addplot[shk] coordinates {(53.5,-5) (53.5,5)};
\zeroline
\gbox{45.1}{53.4}
\plabel{THEMIS B}
\node[anchor=south, font=\tms\fontsize{21}{21}\selectfont] at (axis cs:49.25,-5) [yshift=5pt] {$\sim$ 8 mins};
\end{axis}

\begin{axis}[panel, bottom, at={(55pt,-612pt)}, anchor=north west,
  xlabel={UT}, xlabel style={font=\tms\fontsize{21}{21}\selectfont, at={(axis description cs:0.5,0)}, anchor=north, yshift=-25pt}]
\kbox{-1}{10.8}
\fourlines{\thc}{+0}
\addplot[shk] coordinates {(53.5,-5) (53.5,5)};
\zeroline
\gbox{45.1}{53.4}
\plabel{THEMIS C}
\node[anchor=south, font=\tms\fontsize{21}{21}\selectfont] at (axis cs:49.25,-5) [yshift=5pt] {$\sim$ 8 mins};
\end{axis}
\node[anchor=north, font=\tms\fontsize{17}{17}\selectfont] at (605pt,-737pt) [yshift=-28pt] {Nov 03, 2021};

% ---------------- right column (Wind time) ----------------
\begin{axis}[panel, at={(741pt,-12pt)}, anchor=north west]
\fourlines{\ace}{+10.93}
\addplot[shk] coordinates {(45.2,-5) (45.2,5)};
\zeroline
\bbox{17.5}{20.1}
\gbox{29.8}{44.9}
\plabel{ACE ($t_{\mathrm{Shift}}$ = 00:10:56)}
\end{axis}

\begin{axis}[panel, at={(741pt,-162pt)}, anchor=north west]
\fourlines{\dscovr}{+10.18}
\addplot[shk] coordinates {(45.0,-5) (45.0,5)};
\zeroline
\plabel{DSCOVR ($t_{\mathrm{Shift}}$ = 00:10:11)}
\bbox{8.7}{11.2}
\pbox{19.5}{31.0}
\gbox{32.8}{44.8}
\end{axis}

\begin{axis}[panel, at={(741pt,-312pt)}, anchor=north west]
\fourlines{\wind}{+0}
\addplot[shk] coordinates {(45.1,-5) (45.1,5)};
\zeroline
\bbox{6.5}{9.3}
\pbox{14.2}{21.8}
\gbox{22.9}{44.9}
\plabel{Wind}
\end{axis}

\begin{axis}[panel, at={(741pt,-462pt)}, anchor=north west]
\fourlines{\thb}{-8.4}
\addplot[shk] coordinates {(45.1,-5) (45.1,5)};
\zeroline
\gbox{36.6}{44.8}
\plabel{THEMIS B ($t_{\mathrm{Shift}}$ = -00:08:24)}
\end{axis}

\begin{axis}[panel, bottom, at={(741pt,-612pt)}, anchor=north west,
  xlabel={Wind time}, xlabel style={font=\tms\fontsize{21}{21}\selectfont, at={(axis description cs:0.5,0)}, anchor=north, yshift=-25pt}]
\kbox{-1}{2.0}
\fourlines{\thc}{-8.48}
\addplot[shk] coordinates {(45.1,-5) (45.1,5)};
\zeroline
\gbox{36.6}{44.7}
\plabel{THEMIS C ($t_{\mathrm{Shift}}$ = -00:08:29)}
\end{axis}
\node[anchor=north, font=\tms\fontsize{17}{17}\selectfont] at (1291pt,-737pt) [yshift=-28pt] {Nov 03, 2021};
\end{tikzpicture}
\end{document}
